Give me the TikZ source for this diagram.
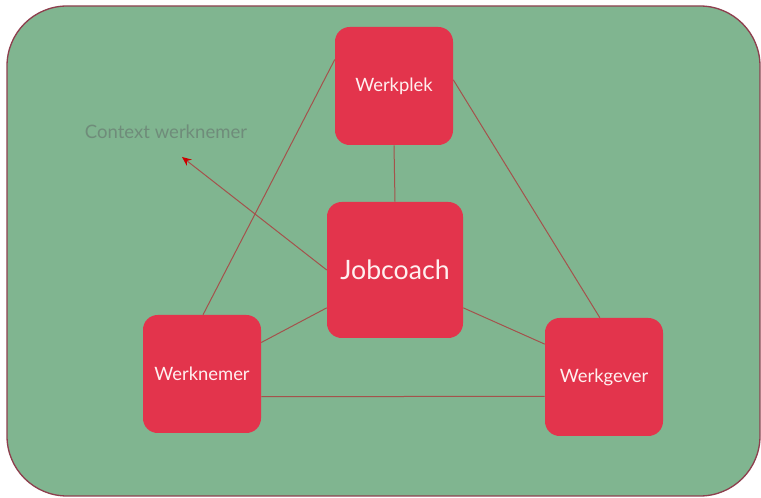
\documentclass[tikz,border=0pt]{standalone}
\usepackage{fontspec}
\setmainfont{Lato}
\usetikzlibrary{arrows.meta}
\definecolor{panel}{HTML}{80B590}
\definecolor{panelrim}{HTML}{8E3F4E}
\definecolor{boxred}{HTML}{E3344C}
\definecolor{wire}{HTML}{A4524C}
\definecolor{note}{HTML}{6F8C7A}
\tikzset{
  card/.style={rectangle, rounded corners=11pt, fill=boxred, draw=none,
    text=white!94!red, minimum size=88.5pt, inner sep=0pt, font=\fontsize{13.8}{16}\selectfont},
  bigcard/.style={card, minimum size=102pt, font=\fontsize{20}{23}\selectfont},
  link/.style={draw=wire, line width=0.75pt},
}
\begin{document}
\begin{tikzpicture}[x=0.75pt,y=-0.75pt]
\useasboundingbox (0,0) rectangle (761,498);
% backdrop panel
\draw[fill=panel, draw=panelrim, line width=1pt, rounded corners=45pt] (7,6) rectangle (760,496);
% actors
\node[card] (wp) at (394,86) {Werkplek};
\node[bigcard] (jc) at (395,270) {Jobcoach};
\node[card] (wn) at (202,374) {Werknemer};
\node[card] (wg) at (604,377) {Werkgever};
\coordinate (ctx) at (182,157);
\node[text=note, font=\fontsize{13.9}{16}\selectfont] (ctxlabel) at (166,132) {Context werknemer};
% connections
\draw[link] (wp.south) -- (jc.north);
\draw[link] (wp.156) -- (wn.89);
\draw[link] (wp.6) -- (wg.94);
\draw[link] (jc.209) -- (wn.28.5);
\draw[link] (jc.331) -- (wg.151.5);
\draw[link] (wn.339) -- (wg.198.7);
\draw[link, -{Stealth[length=7pt, width=6pt, color=red!80!black]}] (jc.west) -- (ctx);
\end{tikzpicture}
\end{document}
